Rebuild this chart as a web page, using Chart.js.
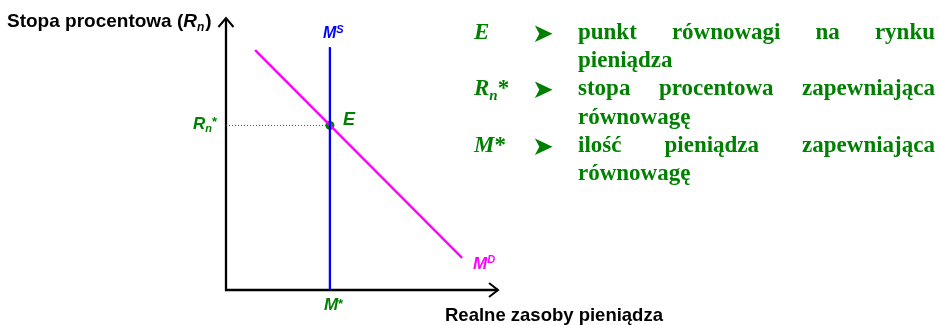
<!DOCTYPE html>
<html lang="pl">
<head>
<meta charset="utf-8">
<script src="https://cdn.jsdelivr.net/npm/chart.js@4/dist/chart.umd.min.js"></script>
<style>
  body { margin: 0; background: #fff; }
  #wrap { position: relative; width: 939px; height: 325px; overflow: hidden; }
  #chart { position: absolute; left: 0; top: 0; }
  #legend { position: absolute; left: 474px; top: 18px; color: #008000;
            font: bold 23px "Liberation Serif", "Times New Roman", serif; line-height: 28.2px; }
  .row { display: flex; }
  .sym { width: 58px; font-style: italic; }
  .arr { width: 46px; height: 56.4px; font: 26px "DejaVu Sans", sans-serif; line-height: 28.2px; }
  .arr span { position: relative; top: 1px; }
  .txt { width: 357px; text-align: justify; text-align-last: left; }
  .sym sub { font-size: 15px; vertical-align: -5px; line-height: 0; }
  .up { font-style: normal; }
</style>
</head>
<body>
<div id="wrap">
  <canvas id="chart" width="939" height="325"></canvas>
  <div id="legend">
    <div class="row"><div class="sym">E</div><div class="arr"><span>➤</span></div><div class="txt">punkt równowagi na rynku pieniądza</div></div>
    <div class="row"><div class="sym">R<sub>n</sub><span class="up">*</span></div><div class="arr"><span>➤</span></div><div class="txt">stopa procentowa zapewniająca równowagę</div></div>
    <div class="row"><div class="sym">M<span class="up">*</span></div><div class="arr"><span>➤</span></div><div class="txt">ilość pieniądza zapewniająca równowagę</div></div>
  </div>
</div>
<script>
// wartości (skala 0..100 na obu osiach)
const mStar  = 38.2;
const rStar  = 60.5;
const msX    = [38.2, 38.2];
const msY    = [0, 89.3];
const mdX    = [10.7, 86.8];
const mdY    = [88.2, 11.8];
const eqX    = [mStar];
const eqY    = [rStar];
const guideX = [0, mStar];
const guideY = [rStar, rStar];

const GREEN = '#008000', BLUE = '#0000ff', PINK = '#ff00ff';

function pts(xs, ys) { return xs.map((x, i) => ({ x: x, y: ys[i] })); }

function runs(ctx, x, y, parts)
{
  parts.forEach(p => {
    ctx.font      = p.font;
    ctx.fillStyle = p.color;
    ctx.fillText(p.text, x, y + (p.dy || 0));
    x += ctx.measureText(p.text).width + (p.kern || 0);
  });
}

const axesPlugin = {
  id: 'axes',
  beforeDatasetsDraw(chart)
  {
    const ctx = chart.ctx, xs = chart.scales.x, ys = chart.scales.y;
    const x0 = xs.getPixelForValue(0), y0 = ys.getPixelForValue(0);
    const xEnd = xs.getPixelForValue(100), yEnd = ys.getPixelForValue(100);
    ctx.save();
    ctx.strokeStyle = '#000';
    ctx.lineWidth   = 2.3;
    ctx.beginPath();
    ctx.moveTo(x0, yEnd); ctx.lineTo(x0, y0); ctx.lineTo(xEnd, y0);
    ctx.stroke();
    ctx.lineWidth = 2;
    ctx.beginPath();
    ctx.moveTo(x0 - 7.5, yEnd + 9); ctx.lineTo(x0, yEnd); ctx.lineTo(x0 + 7.5, yEnd + 9);
    ctx.moveTo(xEnd - 9, y0 - 7); ctx.lineTo(xEnd, y0); ctx.lineTo(xEnd - 9, y0 + 7);
    ctx.stroke();
    ctx.restore();
  },
  afterDraw(chart)
  {
    const ctx = chart.ctx, xs = chart.scales.x, ys = chart.scales.y;
    const AR  = '"Liberation Sans", Arial, sans-serif';
    const px  = xs.getPixelForValue(mStar), py = ys.getPixelForValue(rStar);
    const msTop = ys.getPixelForValue(msY[1]);
    const mdEndX = xs.getPixelForValue(mdX[1]), mdEndY = ys.getPixelForValue(mdY[1]);
    ctx.save();
    ctx.textBaseline = 'alphabetic';

    runs(ctx, 7, 27, [
      { text: 'Stopa procentowa (', font: 'bold 19px ' + AR, color: '#000' },
      { text: 'R', font: 'italic bold 19px ' + AR, color: '#000' },
      { text: 'n', font: 'italic bold 12px ' + AR, color: '#000', dy: 4, kern: 1 },
      { text: ')', font: 'bold 19px ' + AR, color: '#000' }
    ]);
    runs(ctx, 445, 321, [{ text: 'Realne zasoby pieniądza', font: 'bold 18.5px ' + AR, color: '#000' }]);

    runs(ctx, px - 7, msTop - 9, [
      { text: 'M', font: 'italic bold 16px ' + AR, color: BLUE, kern: 0 },
      { text: 'S', font: 'italic bold 11px ' + AR, color: BLUE, dy: -5 }
    ]);
    runs(ctx, mdEndX + 11, mdEndY + 11, [
      { text: 'M', font: 'italic bold 17px ' + AR, color: PINK, kern: 0 },
      { text: 'D', font: 'italic bold 11px ' + AR, color: PINK, dy: -6 }
    ]);
    runs(ctx, px - 6, 310, [
      { text: 'M', font: 'italic bold 17px ' + AR, color: GREEN, kern: 0 },
      { text: '*', font: 'bold 13px ' + AR, color: GREEN, dy: -2 }
    ]);
    runs(ctx, px + 13, py, [{ text: 'E', font: 'italic bold 18px ' + AR, color: GREEN }]);
    runs(ctx, 193, py + 4, [
      { text: 'R', font: 'italic bold 17px ' + AR, color: GREEN },
      { text: 'n', font: 'italic bold 11px ' + AR, color: GREEN, dy: 3 },
      { text: '*', font: 'bold 13px ' + AR, color: GREEN, dy: -3 }
    ]);
    ctx.restore();
  }
};

new Chart(document.getElementById('chart'), {
  type: 'scatter',
  data: {
    datasets: [
      { data: pts(guideX, guideY), showLine: true, borderColor: GREEN, borderWidth: 1, borderDash: [1, 2], pointRadius: 0 },
      { data: pts(msX, msY), showLine: true, borderColor: BLUE, borderWidth: 2.3, pointRadius: 0 },
      { data: pts(mdX, mdY), showLine: true, borderColor: PINK, borderWidth: 2.3, pointRadius: 0 },
      { data: pts(eqX, eqY), pointRadius: 4.5, pointBackgroundColor: GREEN, pointBorderWidth: 0 }
    ]
  },
  options: {
    responsive: false,
    animation: false,
    clip: false,
    layout: { padding: { left: 226, right: 441, top: 18, bottom: 35 } },
    plugins: { legend: { display: false }, tooltip: { enabled: false } },
    events: [],
    scales: {
      x: { type: 'linear', min: 0, max: 100, display: false },
      y: { type: 'linear', min: 0, max: 100, display: false }
    }
  },
  plugins: [axesPlugin]
});
</script>
</body>
</html>
